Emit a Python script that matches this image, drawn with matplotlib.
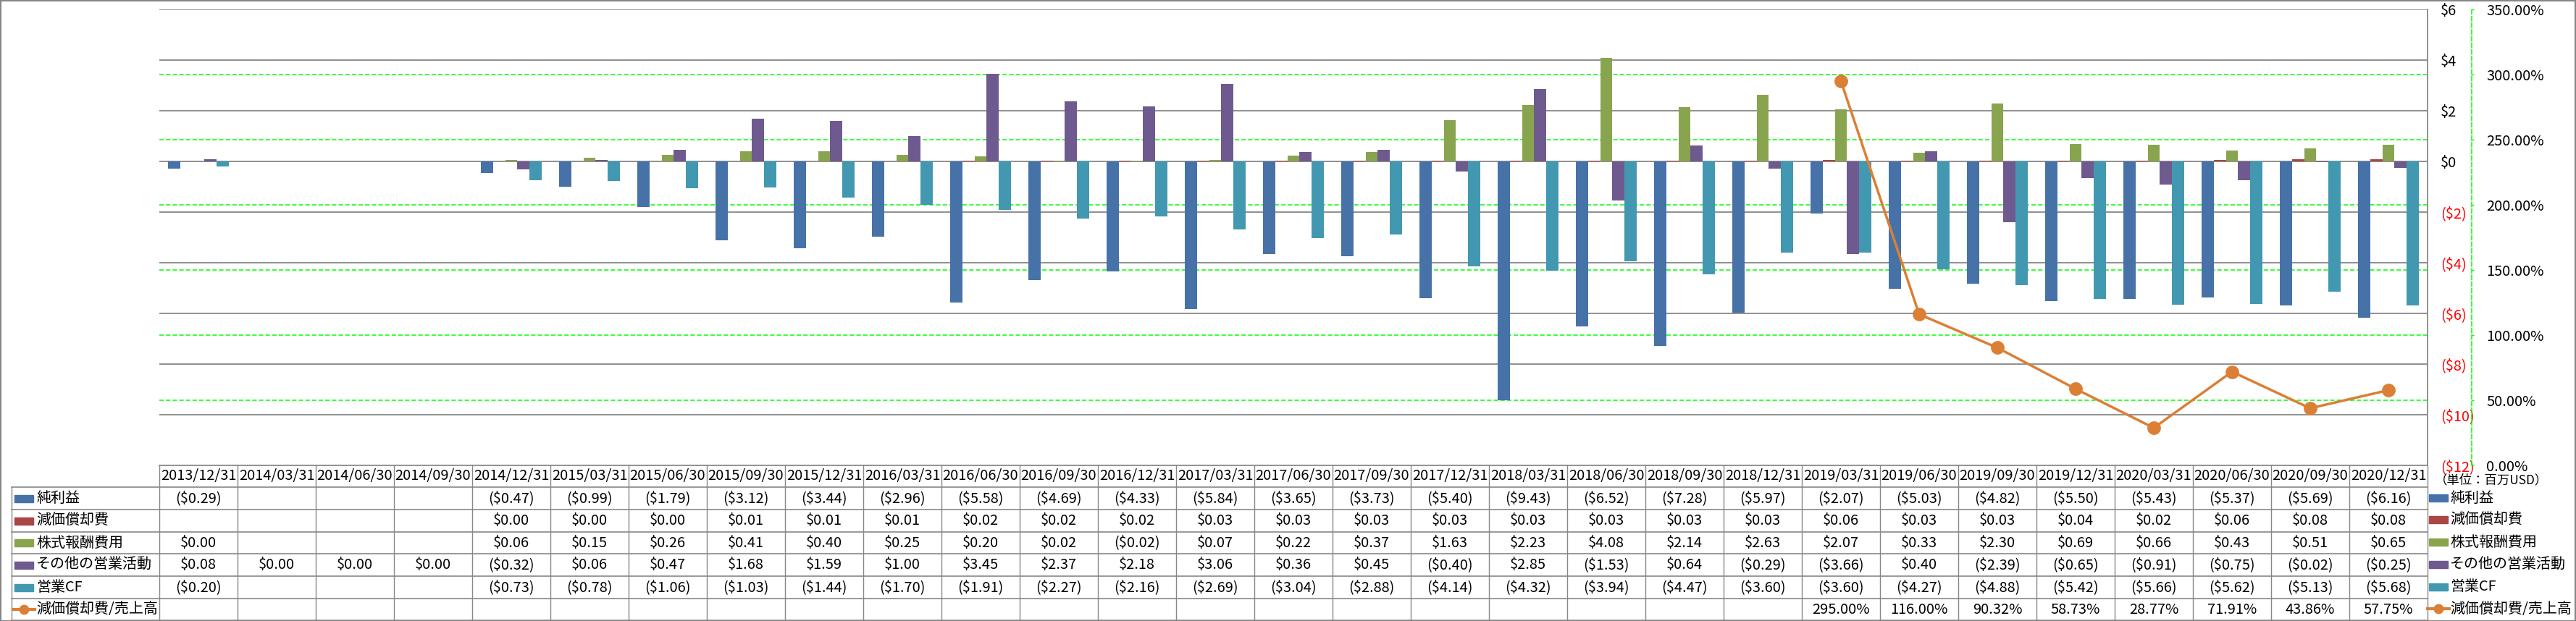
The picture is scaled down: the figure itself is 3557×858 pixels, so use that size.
import numpy as np
import matplotlib
matplotlib.use("Agg")
import matplotlib.pyplot as plt
from matplotlib.lines import Line2D
from matplotlib.patches import Rectangle

plt.rcParams['font.family'] = ['Noto Sans CJK JP', 'DejaVu Sans']

nan = np.nan
dates = ["2013/12/31", "2014/03/31", "2014/06/30", "2014/09/30", "2014/12/31", "2015/03/31",
         "2015/06/30", "2015/09/30", "2015/12/31", "2016/03/31", "2016/06/30", "2016/09/30",
         "2016/12/31", "2017/03/31", "2017/06/30", "2017/09/30", "2017/12/31", "2018/03/31",
         "2018/06/30", "2018/09/30", "2018/12/31", "2019/03/31", "2019/06/30", "2019/09/30",
         "2019/12/31", "2020/03/31", "2020/06/30", "2020/09/30", "2020/12/31"]

net_income = [-0.29, nan, nan, nan, -0.47, -0.99, -1.79, -3.12, -3.44, -2.96, -5.58, -4.69, -4.33,
              -5.84, -3.65, -3.73, -5.40, -9.43, -6.52, -7.28, -5.97, -2.07, -5.03, -4.82, -5.50,
              -5.43, -5.37, -5.69, -6.16]
depreciation = [nan, nan, nan, nan, 0.00, 0.00, 0.00, 0.01, 0.01, 0.01, 0.02, 0.02, 0.02, 0.03,
                0.03, 0.03, 0.03, 0.03, 0.03, 0.03, 0.03, 0.06, 0.03, 0.03, 0.04, 0.02, 0.06,
                0.08, 0.08]
stock_comp = [0.00, nan, nan, nan, 0.06, 0.15, 0.26, 0.41, 0.40, 0.25, 0.20, 0.02, -0.02, 0.07,
              0.22, 0.37, 1.63, 2.23, 4.08, 2.14, 2.63, 2.07, 0.33, 2.30, 0.69, 0.66, 0.43,
              0.51, 0.65]
other_ops = [0.08, 0.00, 0.00, 0.00, -0.32, 0.06, 0.47, 1.68, 1.59, 1.00, 3.45, 2.37, 2.18, 3.06,
             0.36, 0.45, -0.40, 2.85, -1.53, 0.64, -0.29, -3.66, 0.40, -2.39, -0.65, -0.91,
             -0.75, -0.02, -0.25]
op_cf = [-0.20, nan, nan, nan, -0.73, -0.78, -1.06, -1.03, -1.44, -1.70, -1.91, -2.27, -2.16,
         -2.69, -3.04, -2.88, -4.14, -4.32, -3.94, -4.47, -3.60, -3.60, -4.27, -4.88, -5.42,
         -5.66, -5.62, -5.13, -5.68]
dep_ratio = [nan] * 21 + [295.00, 116.00, 90.32, 58.73, 28.77, 71.91, 43.86, 57.75]

series_names = ["純利益", "減価償却費", "株式報酬費用", "その他の営業活動", "営業CF"]
line_name = "減価償却費/売上高"
bar_series = [net_income, depreciation, stock_comp, other_ops, op_cf]
colors = ["#4672A8", "#AA4643", "#89A44E", "#6F5A8F", "#4298B0"]
line_color = "#DB7F35"

y_ticks = [6, 4, 2, 0, -2, -4, -6, -8, -10, -12]
pct_ticks = [0, 50, 100, 150, 200, 250, 300, 350]

W, H = 3557, 858
fig = plt.figure(figsize=(W / 100, H / 100), dpi=100)
FS = 14.4
GRID = "#878787"

def fx(x):
    return x / W

def fy(y):
    return 1 - y / H

left_px, right_px, top_px, bot_px = 220, 3352, 13, 643
ax = fig.add_axes([fx(left_px), fy(bot_px), fx(right_px - left_px), (bot_px - top_px) / H])
n = len(dates)
x = np.arange(n)
bw = 0.156
for k, (vals, c) in enumerate(zip(bar_series, colors)):
    ax.bar(x + (k - 2) * bw, np.array(vals, dtype=float), width=bw, color=c, zorder=3, linewidth=0)

ax.set_xlim(-0.5, n - 0.5)
ax.set_ylim(-12, 6)
ax.set_xticks([])
for t in y_ticks:
    ax.axhline(t, color=GRID, lw=1.3, zorder=1)
for p in pct_ticks[1:-1]:
    ax.axhline(-12 + 18 * p / 350, color="#00FF00", lw=1.1, ls=(0, (4, 2)), zorder=2)
for s in ["left", "top", "bottom"]:
    ax.spines[s].set_visible(False)
ax.spines["right"].set_color(GRID)
ax.spines["right"].set_linewidth(1.3)
ax.patch.set_alpha(0)

ax2 = ax.twinx()
ax2.set_ylim(0, 350)
ax2.plot(x, dep_ratio, color=line_color, lw=2.5, marker="o", ms=12.5, zorder=5)
ax2.set_yticks(pct_ticks)
ax2.set_yticklabels(["%.2f%%" % p for p in pct_ticks])
for s in ["left", "top", "bottom"]:
    ax2.spines[s].set_visible(False)
ax2.spines["right"].set_position(("axes", (3413 - left_px) / (right_px - left_px)))
ax2.spines["right"].set_color("#00FF00")
ax2.spines["right"].set_linestyle((0, (4, 2)))
ax2.spines["right"].set_linewidth(1.1)
ax2.tick_params(axis="y", length=2.5, width=1, color="#00FF00", pad=12, labelsize=FS)
ax2.set_xlim(-0.5, n - 0.5)

# primary y labels on right (after twinx, which resets them to the left)
ax.yaxis.tick_right()
ax.set_yticks(y_ticks)
def money(v):
    return (r"\$%d" % v) if v >= 0 else (r"(\$%d)" % abs(v))
ax.set_yticklabels([money(v) for v in y_ticks])
for lab, v in zip(ax.get_yticklabels(), y_ticks):
    lab.set_color("black" if v >= 0 else "red")
ax.tick_params(axis="y", length=0, pad=13, labelsize=FS, right=True, left=False,
               labelright=True, labelleft=False)
ax.spines["right"].set_visible(True)

# ---- data table ----
col_w = (right_px - left_px) / n
row_edges = [643, 673, 704, 735, 765, 796, 827, 857]

def hline(x0, x1, y):
    fig.add_artist(Line2D([fx(x0), fx(x1)], [fy(y), fy(y)], color=GRID, lw=1.2))

def vline(xp, y0, y1):
    fig.add_artist(Line2D([fx(xp), fx(xp)], [fy(y0), fy(y1)], color=GRID, lw=1.0))

hline(left_px, right_px, row_edges[0])
for y in row_edges[1:]:
    hline(16, right_px, y)
vline(16, row_edges[1], row_edges[-1])
for k in range(n + 1):
    vline(left_px + k * col_w, row_edges[0], row_edges[-1])

def fmt_money(v):
    if np.isnan(v):
        return ""
    return (r"(\$%.2f)" % abs(v)) if v < 0 else (r"\$%.2f" % v)

for i, d in enumerate(dates):
    cx = left_px + (i + 0.5) * col_w
    fig.text(fx(cx), fy((row_edges[0] + row_edges[1]) / 2), d, ha="center", va="center", fontsize=FS)
    for r, vals in enumerate(bar_series):
        yc = (row_edges[r + 1] + row_edges[r + 2]) / 2
        fig.text(fx(cx), fy(yc), fmt_money(vals[i]), ha="center", va="center", fontsize=FS)
    v = dep_ratio[i]
    if not np.isnan(v):
        yc = (row_edges[6] + row_edges[7]) / 2
        fig.text(fx(cx), fy(yc), "%.2f%%" % v, ha="center", va="center", fontsize=FS)

def key(x0, yc, r):
    if r < 5:
        fig.add_artist(Rectangle((fx(x0), fy(yc + 5)), fx(26), 10 / H, color=colors[r],
                                 transform=fig.transFigure))
    else:
        fig.add_artist(Line2D([fx(x0 - 2), fx(x0 + 28)], [fy(yc), fy(yc)], color=line_color, lw=3))
        fig.add_artist(Line2D([fx(x0 + 13)], [fy(yc)], color=line_color, marker="o", ms=9, lw=0))

labels = series_names + [line_name]
for r, name in enumerate(labels):
    yc = (row_edges[r + 1] + row_edges[r + 2]) / 2
    key(20, yc, r)
    fig.text(fx(50), fy(yc), name, ha="left", va="center", fontsize=FS)

# right legend
leg_y = [688, 718, 749, 780, 811, 841]
for r, name in enumerate(labels):
    key(3354, leg_y[r], r)
    fig.text(fx(3383), fy(leg_y[r]), name, ha="left", va="center", fontsize=FS)
fig.text(fx(3362), fy(663), "（単位：百万USD）", ha="left", va="center", fontsize=12.5)

# outer border
fig.add_artist(Rectangle((0.5 / W, 0.5 / H), (W - 1.5) / W, (H - 1.5) / H, fill=False,
                         edgecolor=GRID, lw=1.5, transform=fig.transFigure))

fig.savefig("out.png", dpi=100)
